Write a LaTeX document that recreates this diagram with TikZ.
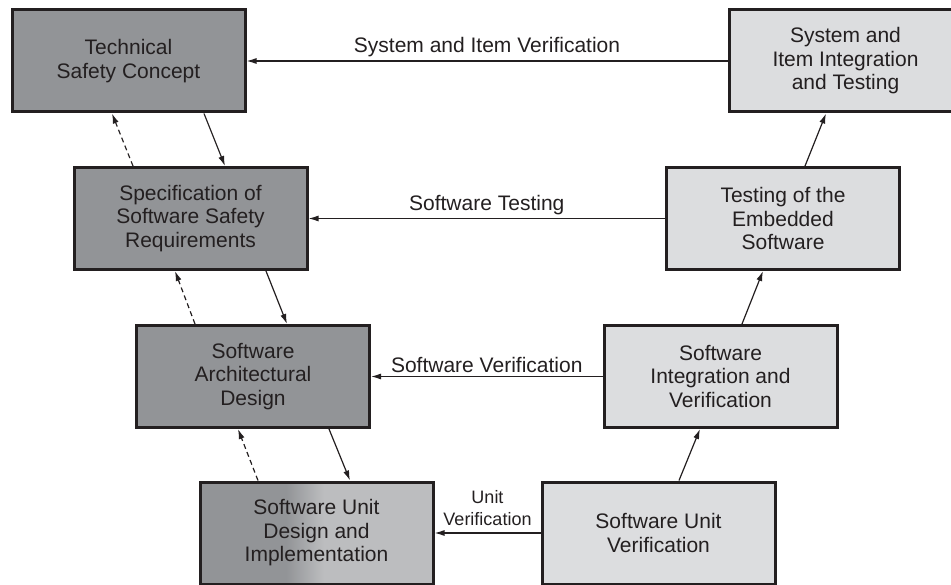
\documentclass[tikz,border=0pt]{standalone}
\usepackage{fontspec}
\setmainfont{Liberation Sans}
\usetikzlibrary{arrows.meta,calc}
\definecolor{ink}{HTML}{231F20}
\definecolor{darkfill}{HTML}{929497}
\definecolor{lightfill}{HTML}{DCDDDF}
\definecolor{gradlight}{HTML}{BCBDBF}
\pgfdeclarehorizontalshading{unitshade}{100bp}{color(0bp)=(darkfill); color(43.5bp)=(darkfill); color(51.5bp)=(gradlight); color(100bp)=(gradlight)}
\begin{document}
\begin{tikzpicture}[x=1pt,y=-1pt,
  box/.style={draw=ink,line width=3pt,minimum width=233pt,minimum height=102pt,
    align=center,font=\fontsize{21}{23.5}\selectfont,text=ink,inner sep=0pt},
  darkbox/.style={box,fill=darkfill},
  lightbox/.style={box,fill=lightfill},
  flow/.style={draw=ink,line width=1.2pt,-{Latex[length=10pt,width=6pt]}},
  back/.style={flow,dash pattern=on 5pt off 3.5pt},
  lbl/.style={font=\fontsize{21}{23.5}\selectfont,text=ink,inner sep=0pt,above=3.5pt},
  slbl/.style={font=\fontsize{18}{22}\selectfont,text=ink,inner sep=0pt,above=7pt,align=center}
]
\useasboundingbox (0,0) rectangle (951,585);
% left side
\node[darkbox] (b1) at (128.5,61) {Technical\\Safety Concept};
\node[darkbox] (b2) at (190.5,218.5) {Specification of\\Software Safety\\Requirements};
\node[darkbox] (b3) at (253,376.5) {Software\\Architectural\\Design};
\node[box,shade,shading=unitshade] (b4) at (316.5,533) {Software Unit\\Design and\\Implementation};
% right side
\node[lightbox] (b5) at (845.5,61) {System and\\Item Integration\\and Testing};
\node[lightbox] (b6) at (783,218.5) {Testing of the\\Embedded\\Software};
\node[lightbox] (b7) at (720.5,376.5) {Software\\Integration and\\Verification};
\node[lightbox] (b8) at (658.5,533) {Software Unit\\Verification};
% horizontal verification arrows
\draw[flow] (b5.west) -- node[lbl] (l1) {System and Item Verification} (b1.east);
\draw[flow] (b6.west) -- node[lbl] (l2) {Software Testing} (b2.east);
\draw[flow] (b7.west) -- node[lbl] (l3) {Software Verification} (b3.east);
\draw[flow] (b8.west) -- node[slbl] (l4) {Unit\\Verification} (b4.east);
% left descending arrows
\draw[flow] ([xshift=75.5pt]b1.south) -- ([xshift=34.5pt]b2.north);
\draw[flow] ([xshift=75.5pt]b2.south) -- ([xshift=34pt]b3.north);
\draw[flow] ([xshift=76pt]b3.south) -- ([xshift=33.5pt]b4.north);
% dashed feedback arrows
\draw[back] ([xshift=-57.5pt]b2.north) -- ([xshift=-16.5pt]b1.south);
\draw[back] ([xshift=-58pt]b3.north) -- ([xshift=-15.5pt]b2.south);
\draw[back] ([xshift=-58.5pt]b4.north) -- ([xshift=-15pt]b3.south);
% right ascending arrows
\draw[flow] ([xshift=20.5pt]b8.north) -- ([xshift=-20.5pt]b7.south);
\draw[flow] ([xshift=21.5pt]b7.north) -- ([xshift=-20pt]b6.south);
\draw[flow] ([xshift=22pt]b6.north) -- ([xshift=-19.5pt]b5.south);
\end{tikzpicture}
\end{document}
